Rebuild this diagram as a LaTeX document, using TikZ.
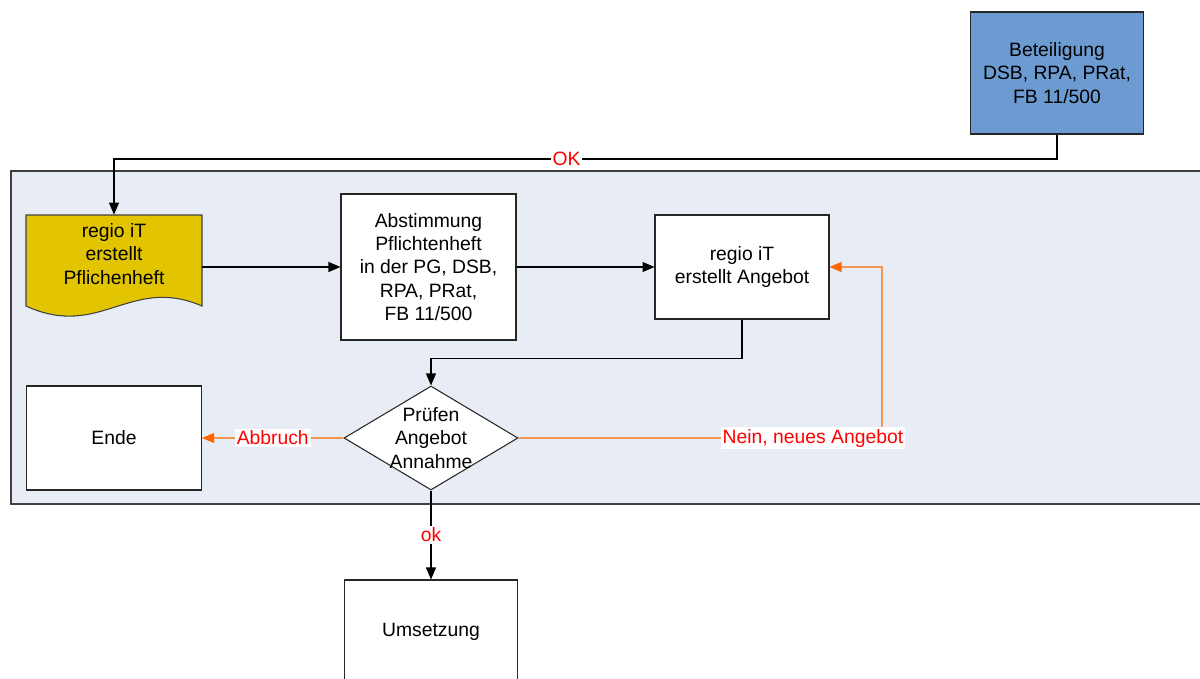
\documentclass[tikz,border=0pt]{standalone}
\usepackage{fontspec}
\setmainfont{Liberation Sans}
\usetikzlibrary{positioning,arrows.meta,shapes.geometric,calc}
\definecolor{prBlue}{RGB}{108,155,210}
\definecolor{prGold}{RGB}{227,196,0}
\definecolor{prPanel}{RGB}{232,237,245}
\definecolor{prOrange}{RGB}{255,102,0}
\definecolor{prOrangeLine}{RGB}{245,150,80}
\definecolor{prRed}{RGB}{255,0,0}

\begin{document}
\begin{tikzpicture}[x=0.02cm, y=-0.02cm, font=\fontsize{11}{13.3}\selectfont,
    box/.style={draw=black!85, fill=white, line width=0.6pt, align=center,
      minimum width=3.5cm, minimum height=2.08cm, inner sep=2pt},
    flow/.style={-{Triangle[length=2.4mm,width=2mm]}, line width=0.6pt},
    back/.style={line width=0.6pt, prOrangeLine,
      -{Triangle[length=2.4mm,width=2mm,color=prOrange]}},
    lbl/.style={fill=white, text=prRed, inner sep=1pt}]
  \useasboundingbox (0,0) rectangle (1200,679);
  \clip (0,0) rectangle (1200,679);

  % Panel
  \draw[fill=prPanel, draw=black!75, line width=0.6pt] (11,171) rectangle (1215,504);

  % Beteiligung
  \node[box, fill=prBlue, minimum width=3.46cm, minimum height=2.44cm] (beteil) at (1057,73)
    {Beteiligung\\DSB, RPA, PRat,\\FB 11/500};

  % Document shape
  \draw[fill=prGold, draw=black!75, line width=0.6pt] (26,215) -- (202,215) -- (202,306)
    .. controls (130,275) and (100,340) .. (26,306) -- cycle;
  \node[align=center, minimum width=3.52cm, minimum height=1.56cm, inner sep=0pt] (doc) at (114,254)
    {regio iT\\erstellt\\Pflichenheft};

  % Process boxes
  \node[box, minimum height=2.92cm] (abst) at (428.5,267)
    {Abstimmung\\Pflichtenheft\\in der PG, DSB,\\RPA, PRat,\\FB 11/500};
  \node[box, minimum width=3.48cm] (angeb) at (742,267) {regio iT\\erstellt Angebot};
  \node[diamond, draw=black!85, fill=white, line width=0.6pt, minimum width=3.48cm,
    minimum height=2.08cm, inner sep=0pt,
    label={[align=center]center:Prüfen\\Angebot\\Annahme}] (pruef) at (431,438) {};
  \node[box] (ende) at (114,438) {Ende};
  \node[box, minimum width=3.46cm] (umsetz) at (431,632) {Umsetzung};

  % Connectors
  \coordinate (okbend) at (114,159);
  \draw[flow] (beteil.south) -- (beteil.south |- okbend) -- node[lbl, pos=0.52] {OK} (okbend) -- (doc.north);
  \draw[flow] (abst.west -| doc.east) -- (abst.west);
  \draw[flow] (abst.east) -- (angeb.west);
  \draw[flow] (angeb.south) -- ++(0,39) -| (pruef.north);
  \draw[back] (pruef.west) -- node[lbl] {Abbruch} (ende.east);
  \coordinate (neinbend) at (882,438);
  \draw[back] (pruef.east) -- node[lbl, pos=0.81] {Nein, neues Angebot} (neinbend) |- (angeb.east);
  \draw[flow] (pruef.south) -- node[lbl] {ok} (umsetz.north);
\end{tikzpicture}
\end{document}
